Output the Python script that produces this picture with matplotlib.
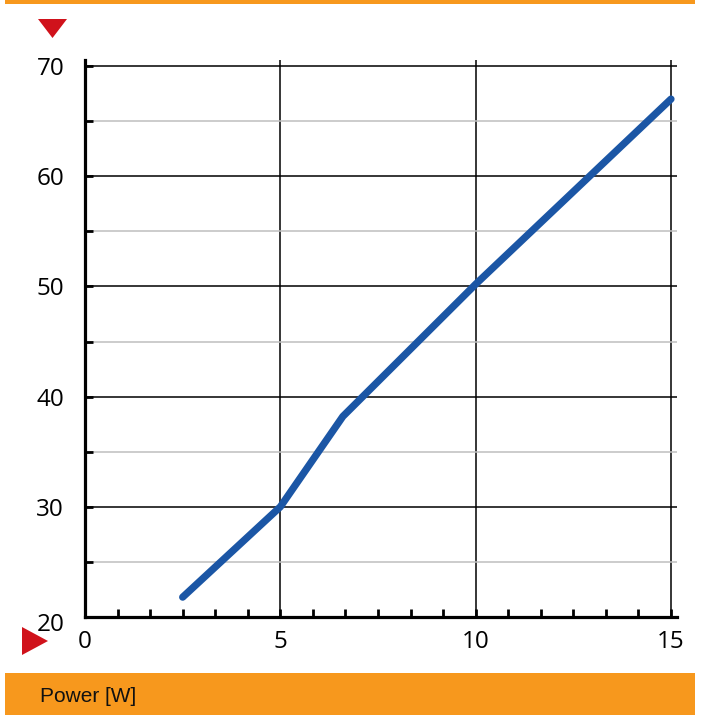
import matplotlib
matplotlib.use("Agg")
import matplotlib.pyplot as plt
from matplotlib.patches import Polygon, Rectangle
from matplotlib.ticker import MultipleLocator, FixedLocator
import matplotlib.transforms as mtransforms

plt.rcParams["font.family"] = ["Open Sans", "DejaVu Sans"]

power = [2.5, 5.0, 6.6, 10.0, 15.0]
values = [21.8, 30.0, 38.2, 50.2, 67.0]
x_ticks = [0, 5, 10, 15]
y_ticks = [20, 30, 40, 50, 60, 70]
x_label = "Power [W]"

W, H = 701, 715
fig = plt.figure(figsize=(W / 100, H / 100), dpi=100)

def px(x0, y0, x1, y1):
    return [x0 / W, 1 - y1 / H, (x1 - x0) / W, (y1 - y0) / H]

ax = fig.add_axes(px(85, 60, 677, 617))
xmax = 15 + 6 / ((671 - 85) / 15)
ymax = 70 + 6 / ((617 - 66) / 50)
ax.set_xlim(0, xmax)
ax.set_ylim(20, ymax)

for s in ["top", "right"]:
    ax.spines[s].set_visible(False)
for s in ["left", "bottom"]:
    ax.spines[s].set_linewidth(2.3)
    ax.spines[s].set_color("black")

ax.xaxis.set_major_locator(FixedLocator(x_ticks))
ax.yaxis.set_major_locator(FixedLocator(y_ticks))
ax.xaxis.set_minor_locator(MultipleLocator(5 / 6))
ax.yaxis.set_minor_locator(MultipleLocator(5))

ax.tick_params(axis="both", which="both", direction="in", color="black", width=2.0)
ax.tick_params(axis="both", which="major", length=6)
ax.tick_params(axis="both", which="minor", length=6)
ax.tick_params(axis="y", which="major", pad=15, labelsize=17.5)
ax.tick_params(axis="x", which="major", pad=9, labelsize=17.5)

# the bottom y label sits slightly lower in the reference
fig.canvas.draw()
ylabs = ax.get_yticklabels()
ylabs[0].set_transform(ylabs[0].get_transform() +
                       mtransforms.ScaledTranslation(0, -5 / 100, fig.dpi_scale_trans))

ax.grid(True, which="major", axis="both", color="black", linewidth=1.1)
ax.grid(True, which="minor", axis="y", color="#BFBFBF", linewidth=1.1)
ax.grid(False, which="minor", axis="x")
ax.set_axisbelow(True)

ax.plot(power, values, color="#1B56A5", linewidth=5.2, solid_capstyle="round",
        solid_joinstyle="round", zorder=5)

orange = "#F7981D"
red = "#D0121B"
fig.patches.append(Rectangle((5 / W, 1 - 4 / H), 690 / W, 4 / H, transform=fig.transFigure,
                             facecolor=orange, edgecolor="none"))
fig.patches.append(Rectangle((5 / W, 0), 690 / W, 42 / H, transform=fig.transFigure,
                             facecolor=orange, edgecolor="none"))

def fp(x, y):
    return (x / W, 1 - y / H)

fig.patches.append(Polygon([fp(38, 19), fp(67, 19), fp(52.5, 38)], closed=True,
                           transform=fig.transFigure, facecolor=red, edgecolor="none"))
fig.patches.append(Polygon([fp(22, 627), fp(22, 655), fp(48, 641)], closed=True,
                           transform=fig.transFigure, facecolor=red, edgecolor="none"))

fig.text(40 / W, 1 - 697 / H, x_label, fontsize=15, family="Liberation Sans",
         va="center", ha="left", color="#111111")

fig.savefig("out.png", dpi=100)
